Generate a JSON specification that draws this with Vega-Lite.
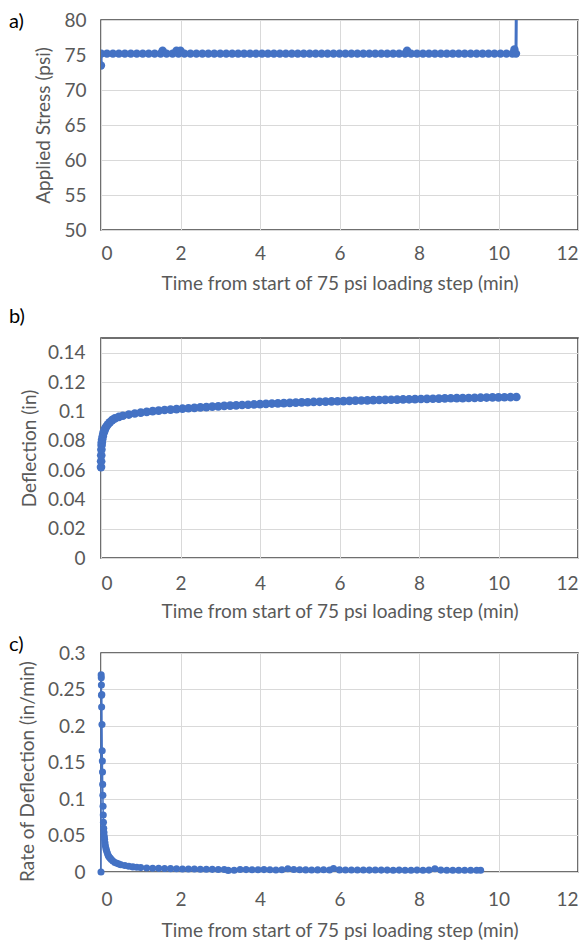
{
  "$schema": "https://vega.github.io/schema/vega-lite/v6.json",
  "background": "white",
  "padding": {"left": 8, "top": 10, "right": 0, "bottom": 2},
  "spacing": 12,
  "config": {
    "view": {"stroke": "#404040", "strokeWidth": 1.5},
    "font": "Lato",
    "axis": {
      "labelFont": "Lato", "labelFontSize": 19, "labelColor": "#595959",
      "titleFont": "Lato", "titleFontSize": 19, "titleFontWeight": "normal", "titleColor": "#595959",
      "ticks": false, "domain": false, "gridColor": "#d9d9d9", "gridWidth": 1
    },
    "title": {"font": "Lato", "fontSize": 20, "fontWeight": "normal", "color": "#000000", "anchor": "start", "frame": "group"}
  },
  "datasets": {
    "stress": [
      {"t": 0, "s": 73.5}, {"t": 0.005, "s": 75.2}, {"t": 0.15, "s": 75.2}, {"t": 0.3, "s": 75.2}, {"t": 0.45, "s": 75.2},
      {"t": 0.6, "s": 75.2}, {"t": 0.75, "s": 75.2}, {"t": 0.9, "s": 75.2}, {"t": 1.05, "s": 75.2}, {"t": 1.2, "s": 75.2},
      {"t": 1.35, "s": 75.2}, {"t": 1.5, "s": 75.2}, {"t": 1.55, "s": 75.6}, {"t": 1.65, "s": 75.2}, {"t": 1.8, "s": 75.2},
      {"t": 1.9, "s": 75.6}, {"t": 1.95, "s": 75.2}, {"t": 2.0, "s": 75.6}, {"t": 2.1, "s": 75.2}, {"t": 2.25, "s": 75.2},
      {"t": 2.4, "s": 75.2}, {"t": 2.55, "s": 75.2}, {"t": 2.7, "s": 75.2}, {"t": 2.85, "s": 75.2}, {"t": 3.0, "s": 75.2},
      {"t": 3.15, "s": 75.2}, {"t": 3.3, "s": 75.2}, {"t": 3.45, "s": 75.2}, {"t": 3.6, "s": 75.2}, {"t": 3.75, "s": 75.2},
      {"t": 3.9, "s": 75.2}, {"t": 4.05, "s": 75.2}, {"t": 4.2, "s": 75.2}, {"t": 4.35, "s": 75.2}, {"t": 4.5, "s": 75.2},
      {"t": 4.65, "s": 75.2}, {"t": 4.8, "s": 75.2}, {"t": 4.95, "s": 75.2}, {"t": 5.1, "s": 75.2}, {"t": 5.25, "s": 75.2},
      {"t": 5.4, "s": 75.2}, {"t": 5.55, "s": 75.2}, {"t": 5.7, "s": 75.2}, {"t": 5.85, "s": 75.2}, {"t": 6.0, "s": 75.2},
      {"t": 6.15, "s": 75.2}, {"t": 6.3, "s": 75.2}, {"t": 6.45, "s": 75.2}, {"t": 6.6, "s": 75.2}, {"t": 6.75, "s": 75.2},
      {"t": 6.9, "s": 75.2}, {"t": 7.05, "s": 75.2}, {"t": 7.2, "s": 75.2}, {"t": 7.35, "s": 75.2}, {"t": 7.5, "s": 75.2},
      {"t": 7.65, "s": 75.2}, {"t": 7.7, "s": 75.6}, {"t": 7.8, "s": 75.2}, {"t": 7.95, "s": 75.2}, {"t": 8.1, "s": 75.2},
      {"t": 8.25, "s": 75.2}, {"t": 8.4, "s": 75.2}, {"t": 8.55, "s": 75.2}, {"t": 8.7, "s": 75.2}, {"t": 8.85, "s": 75.2},
      {"t": 9.0, "s": 75.2}, {"t": 9.15, "s": 75.2}, {"t": 9.3, "s": 75.2}, {"t": 9.45, "s": 75.2}, {"t": 9.6, "s": 75.2},
      {"t": 9.75, "s": 75.2}, {"t": 9.9, "s": 75.2}, {"t": 10.05, "s": 75.2}, {"t": 10.2, "s": 75.2}, {"t": 10.35, "s": 75.2},
      {"t": 10.4, "s": 75.8}, {"t": 10.44, "s": 75.2}, {"t": 10.46, "s": 90}
    ],
    "deflection": [
      {"t": 0, "d": 0.062}, {"t": 0.003, "d": 0.066}, {"t": 0.006, "d": 0.07}, {"t": 0.01, "d": 0.074}, {"t": 0.015, "d": 0.077},
      {"t": 0.02, "d": 0.079}, {"t": 0.03, "d": 0.081}, {"t": 0.045, "d": 0.083}, {"t": 0.06, "d": 0.085}, {"t": 0.08, "d": 0.0865},
      {"t": 0.1, "d": 0.088}, {"t": 0.13, "d": 0.0895}, {"t": 0.17, "d": 0.091}, {"t": 0.22, "d": 0.0925}, {"t": 0.28, "d": 0.094},
      {"t": 0.35, "d": 0.0952}, {"t": 0.45, "d": 0.0962}, {"t": 0.55, "d": 0.097}, {"t": 0.7, "d": 0.0978}, {"t": 0.85, "d": 0.0985},
      {"t": 1.0, "d": 0.0991}, {"t": 1.15, "d": 0.0996}, {"t": 1.3, "d": 0.1001}, {"t": 1.45, "d": 0.1005}, {"t": 1.6, "d": 0.1009},
      {"t": 1.75, "d": 0.1012}, {"t": 1.9, "d": 0.1015}, {"t": 2.05, "d": 0.1018}, {"t": 2.2, "d": 0.1021}, {"t": 2.35, "d": 0.1024},
      {"t": 2.5, "d": 0.1027}, {"t": 2.65, "d": 0.1029}, {"t": 2.8, "d": 0.1032}, {"t": 2.95, "d": 0.1034}, {"t": 3.1, "d": 0.1037},
      {"t": 3.25, "d": 0.1039}, {"t": 3.4, "d": 0.1041}, {"t": 3.55, "d": 0.1043}, {"t": 3.7, "d": 0.1045}, {"t": 3.85, "d": 0.1047},
      {"t": 4.0, "d": 0.1049}, {"t": 4.15, "d": 0.1051}, {"t": 4.3, "d": 0.1053}, {"t": 4.45, "d": 0.1054}, {"t": 4.6, "d": 0.1056},
      {"t": 4.75, "d": 0.1058}, {"t": 4.9, "d": 0.1059}, {"t": 5.05, "d": 0.1061}, {"t": 5.2, "d": 0.1062}, {"t": 5.35, "d": 0.1064},
      {"t": 5.5, "d": 0.1065}, {"t": 5.65, "d": 0.1066}, {"t": 5.8, "d": 0.1068}, {"t": 5.95, "d": 0.1069}, {"t": 6.1, "d": 0.107},
      {"t": 6.25, "d": 0.1071}, {"t": 6.4, "d": 0.1073}, {"t": 6.55, "d": 0.1074}, {"t": 6.7, "d": 0.1075}, {"t": 6.85, "d": 0.1076},
      {"t": 7.0, "d": 0.1077}, {"t": 7.15, "d": 0.1078}, {"t": 7.3, "d": 0.1079}, {"t": 7.45, "d": 0.108}, {"t": 7.6, "d": 0.1081},
      {"t": 7.75, "d": 0.1082}, {"t": 7.9, "d": 0.1083}, {"t": 8.05, "d": 0.1084}, {"t": 8.2, "d": 0.1085}, {"t": 8.35, "d": 0.1086},
      {"t": 8.5, "d": 0.1087}, {"t": 8.65, "d": 0.1088}, {"t": 8.8, "d": 0.1089}, {"t": 8.95, "d": 0.109}, {"t": 9.1, "d": 0.109},
      {"t": 9.25, "d": 0.1091}, {"t": 9.4, "d": 0.1092}, {"t": 9.55, "d": 0.1093}, {"t": 9.7, "d": 0.1094}, {"t": 9.85, "d": 0.1095},
      {"t": 10.0, "d": 0.1095}, {"t": 10.15, "d": 0.1096}, {"t": 10.3, "d": 0.1097}, {"t": 10.45, "d": 0.1098}
    ],
    "rate": [
      {"t": 0, "r": 0}, {"t": 0.004, "r": 0.27}, {"t": 0.007, "r": 0.266}, {"t": 0.01, "r": 0.256}, {"t": 0.013, "r": 0.242},
      {"t": 0.016, "r": 0.226}, {"t": 0.02, "r": 0.243}, {"t": 0.025, "r": 0.202}, {"t": 0.03, "r": 0.166}, {"t": 0.034, "r": 0.152},
      {"t": 0.038, "r": 0.137}, {"t": 0.042, "r": 0.12}, {"t": 0.047, "r": 0.105}, {"t": 0.052, "r": 0.09}, {"t": 0.057, "r": 0.078},
      {"t": 0.062, "r": 0.068}, {"t": 0.068, "r": 0.06}, {"t": 0.075, "r": 0.054}, {"t": 0.082, "r": 0.049}, {"t": 0.09, "r": 0.045},
      {"t": 0.1, "r": 0.04}, {"t": 0.11, "r": 0.036}, {"t": 0.125, "r": 0.032}, {"t": 0.14, "r": 0.029}, {"t": 0.16, "r": 0.026},
      {"t": 0.18, "r": 0.023}, {"t": 0.2, "r": 0.021}, {"t": 0.23, "r": 0.019}, {"t": 0.26, "r": 0.017}, {"t": 0.3, "r": 0.015},
      {"t": 0.35, "r": 0.013}, {"t": 0.4, "r": 0.012}, {"t": 0.45, "r": 0.011}, {"t": 0.5, "r": 0.01}, {"t": 0.6, "r": 0.0088},
      {"t": 0.7, "r": 0.0078}, {"t": 0.8, "r": 0.007}, {"t": 0.9, "r": 0.0065}, {"t": 1.0, "r": 0.006}, {"t": 1.15, "r": 0.0056},
      {"t": 1.3, "r": 0.0052}, {"t": 1.45, "r": 0.005}, {"t": 1.6, "r": 0.0048}, {"t": 1.75, "r": 0.0046}, {"t": 1.9, "r": 0.0044},
      {"t": 2.05, "r": 0.0042}, {"t": 2.2, "r": 0.004}, {"t": 2.35, "r": 0.004}, {"t": 2.5, "r": 0.0038}, {"t": 2.65, "r": 0.0037},
      {"t": 2.8, "r": 0.0036}, {"t": 2.95, "r": 0.0035}, {"t": 3.1, "r": 0.0034}, {"t": 3.2, "r": 0.0022}, {"t": 3.35, "r": 0.0025},
      {"t": 3.5, "r": 0.0034}, {"t": 3.65, "r": 0.0033}, {"t": 3.8, "r": 0.0032}, {"t": 3.95, "r": 0.0031}, {"t": 4.1, "r": 0.0033},
      {"t": 4.25, "r": 0.003}, {"t": 4.4, "r": 0.0028}, {"t": 4.55, "r": 0.003}, {"t": 4.7, "r": 0.0045}, {"t": 4.85, "r": 0.0035},
      {"t": 5.0, "r": 0.003}, {"t": 5.15, "r": 0.0029}, {"t": 5.3, "r": 0.0028}, {"t": 5.45, "r": 0.0029}, {"t": 5.6, "r": 0.003},
      {"t": 5.75, "r": 0.0028}, {"t": 5.85, "r": 0.0048}, {"t": 6.0, "r": 0.0029}, {"t": 6.15, "r": 0.0028}, {"t": 6.3, "r": 0.0027},
      {"t": 6.45, "r": 0.0028}, {"t": 6.6, "r": 0.0027}, {"t": 6.75, "r": 0.0026}, {"t": 6.9, "r": 0.0027}, {"t": 7.05, "r": 0.0026},
      {"t": 7.2, "r": 0.0026}, {"t": 7.35, "r": 0.0025}, {"t": 7.5, "r": 0.0026}, {"t": 7.65, "r": 0.0025}, {"t": 7.8, "r": 0.0025},
      {"t": 7.95, "r": 0.0026}, {"t": 8.1, "r": 0.0025}, {"t": 8.25, "r": 0.0026}, {"t": 8.4, "r": 0.0045}, {"t": 8.55, "r": 0.0026},
      {"t": 8.7, "r": 0.0025}, {"t": 8.85, "r": 0.0024}, {"t": 9.0, "r": 0.0025}, {"t": 9.15, "r": 0.0024}, {"t": 9.3, "r": 0.0025},
      {"t": 9.45, "r": 0.0024}, {"t": 9.55, "r": 0.0024}
    ]
  },
  "vconcat": [
    {
      "width": 477, "height": 210,
      "title": {"text": "a)", "dx": -92, "dy": 21, "offset": 0},
      "data": {"name": "stress"},
      "mark": {"type": "line", "color": "#4472C4", "strokeWidth": 3, "clip": true, "point": {"filled": true, "size": 70, "color": "#4472C4"}},
      "encoding": {
        "x": {"field": "t", "type": "quantitative", "scale": {"domain": [0, 12], "nice": false},
              "axis": {"values": [0, 2, 4, 6, 8, 10, 12], "title": "Time  from start of 75 psi loading step (min)", "labelPadding": 14, "titlePadding": 11}},
        "y": {"field": "s", "type": "quantitative", "scale": {"domain": [50, 80], "nice": false, "zero": false},
              "axis": {"values": [50, 55, 60, 65, 70, 75, 80], "title": "Applied Stress (psi)", "labelPadding": 15, "titlePadding": 10}}
      }
    },
    {
      "width": 477, "height": 220,
      "title": {"text": "b)", "dx": -92, "offset": 11},
      "data": {"name": "deflection"},
      "mark": {"type": "line", "color": "#4472C4", "strokeWidth": 3, "point": {"filled": true, "size": 75, "color": "#4472C4"}},
      "encoding": {
        "x": {"field": "t", "type": "quantitative", "scale": {"domain": [0, 12], "nice": false},
              "axis": {"values": [0, 2, 4, 6, 8, 10, 12], "title": "Time from start of 75 psi loading step (min)", "labelPadding": 16, "titlePadding": 9}},
        "y": {"field": "d", "type": "quantitative", "scale": {"domain": [0, 0.15], "nice": false},
              "axis": {"values": [0, 0.02, 0.04, 0.06, 0.08, 0.1, 0.12, 0.14], "format": "~g", "title": "Deflection (in)", "labelPadding": 16, "titlePadding": 8}}
      }
    },
    {
      "width": 477, "height": 219,
      "title": {"text": "c)", "dx": -92, "dy": 15, "offset": 4},
      "data": {"name": "rate"},
      "mark": {"type": "line", "color": "#4472C4", "strokeWidth": 1.5, "point": {"filled": true, "size": 50, "color": "#4472C4"}},
      "encoding": {
        "x": {"field": "t", "type": "quantitative", "scale": {"domain": [0, 12], "nice": false},
              "axis": {"values": [0, 2, 4, 6, 8, 10, 12], "title": "Time  from start of 75 psi loading step (min)", "labelPadding": 18, "titlePadding": 12}},
        "y": {"field": "r", "type": "quantitative", "scale": {"domain": [0, 0.3], "nice": false},
              "axis": {"values": [0, 0.05, 0.1, 0.15, 0.2, 0.25, 0.3], "format": "~g", "title": "Rate of Deflection (in/min)", "titleY": 118, "labelPadding": 16, "titlePadding": 10}}
      }
    }
  ]
}
